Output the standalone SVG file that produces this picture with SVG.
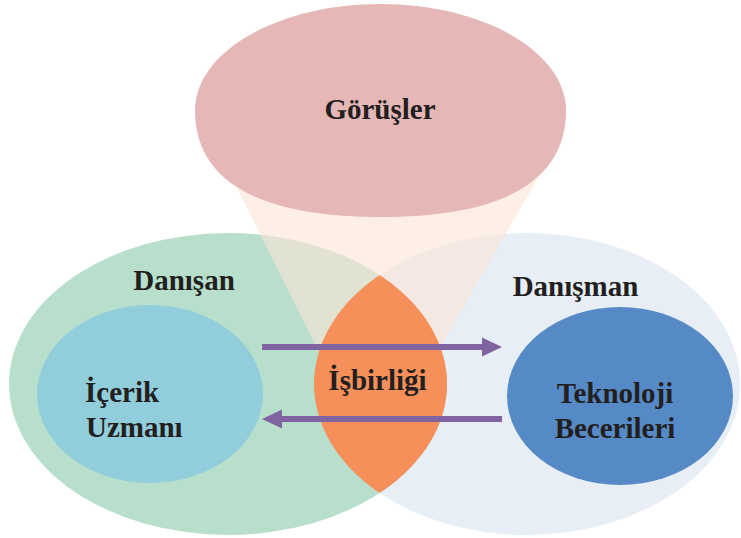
<svg xmlns="http://www.w3.org/2000/svg" width="741" height="538" viewBox="0 0 741 538">
<style>
text{font-family:"Liberation Serif","Times New Roman",serif;font-weight:bold;font-size:29px;fill:#231f20}
.arrow{stroke:#8064a2;stroke-width:6;fill:none}
</style>
<defs>
<marker id="ah" viewBox="0 0 20 20" refX="0" refY="10" markerWidth="20" markerHeight="20" markerUnits="userSpaceOnUse" orient="auto">
<path d="M0,0.5 L20,10 L0,19.5 Z" fill="#8064a2"/>
</marker>
<clipPath id="rightClip"><ellipse cx="527" cy="384" rx="213" ry="151"/></clipPath>
</defs>
<rect width="741" height="538" fill="#ffffff"/>
<g id="danisman">
<ellipse cx="527" cy="384" rx="213" ry="151" fill="#e8eef5"/>
</g>
<g id="danisan">
<ellipse cx="228" cy="384" rx="219" ry="151" fill="#b8dfcc"/>
<text x="184" y="290" text-anchor="middle">Danışan</text>
</g>
<g id="cone">
<path d="M225.5,165 L545.5,165 L421,380 L333,380 Z" fill="#fbe5d6" opacity="0.6"/>
</g>
<g id="isbirligi">
<ellipse cx="228" cy="384" rx="219" ry="151" fill="#f68f5a" clip-path="url(#rightClip)"/>
<text x="377.5" y="390" text-anchor="middle">İşbirliği</text>
</g>
<g id="danisman-label">
<text x="575.5" y="296" text-anchor="middle">Danışman</text>
</g>
<g id="gorusler">
<path d="M380.5,4 C482.9,4 566,51.7 566,110.5 C566,180.8 502.9,217 380.5,217 C258.1,217 195,180.8 195,110.5 C195,51.7 278.1,4 380.5,4 Z" fill="#e5b8b7"/>
<text x="380" y="119" text-anchor="middle">Görüşler</text>
</g>
<g id="icerik">
<ellipse cx="150" cy="394" rx="113" ry="89" fill="#92cddc"/>
<text x="85" y="402">İçerik</text>
<text x="86" y="437">Uzmanı</text>
</g>
<g id="teknoloji">
<ellipse cx="620" cy="396" rx="113" ry="89" fill="#558ac7"/>
<text x="615" y="403" text-anchor="middle">Teknoloji</text>
<text x="615" y="438" text-anchor="middle">Becerileri</text>
</g>
<g id="connectors">
<line class="arrow" x1="262" y1="347" x2="482" y2="347" marker-end="url(#ah)"/>
<line class="arrow" x1="502" y1="419" x2="282" y2="419" marker-end="url(#ah)"/>
</g>
</svg>
